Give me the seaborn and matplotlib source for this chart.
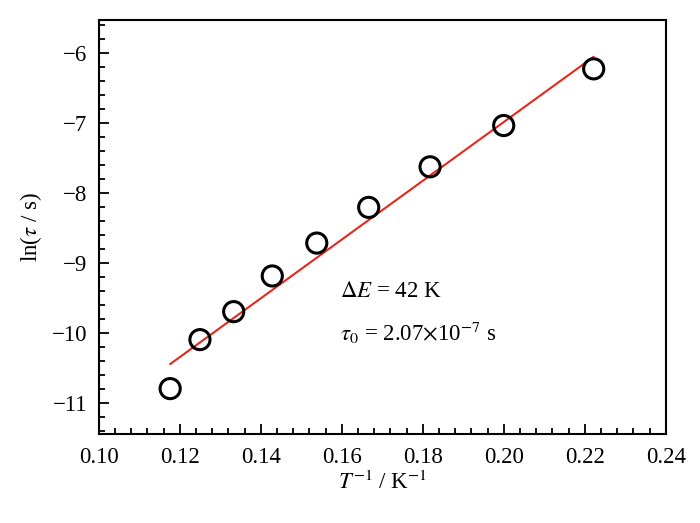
import numpy as np
import pandas as pd
import matplotlib
matplotlib.use("Agg")
import matplotlib.pyplot as plt
import seaborn as sns
from matplotlib.ticker import MultipleLocator, AutoMinorLocator

# data
inv_T = [1/8.5, 1/8.0, 1/7.5, 1/7.0, 1/6.5, 1/6.0, 1/5.5, 1/5.0, 1/4.5]
ln_tau = [-10.80, -10.10, -9.70, -9.19, -8.72, -8.21, -7.63, -7.04, -6.23]

# Arrhenius fit parameters (from the annotation)
dE = 42.0
tau0 = 2.07e-7

df = pd.DataFrame({"x": inv_T, "y": ln_tau})
xf = np.array([min(inv_T), max(inv_T)])
fit = pd.DataFrame({"x": xf, "y": np.log(tau0) + dE * xf})

sns.set_style("ticks")
plt.rcParams["font.family"] = ["Liberation Serif", "DejaVu Serif"]
plt.rcParams["mathtext.fontset"] = "stix"
for k in ["text.color", "axes.labelcolor", "xtick.color", "ytick.color"]:
    plt.rcParams[k] = "black"

fig = plt.figure(figsize=(7, 5.23), dpi=100)
ax = fig.add_axes([0.141, 0.170, 0.810, 0.792])

sns.lineplot(data=fit, x="x", y="y", color="#e8261c", lw=1.5, ax=ax)
sns.scatterplot(data=df, x="x", y="y", marker="o", s=210, facecolor="none",
                edgecolor="black", linewidth=2.2, ax=ax, zorder=3)

ax.set_xlim(0.10, 0.24)
ax.set_ylim(-11.45, -5.53)
ax.xaxis.set_major_locator(MultipleLocator(0.02))
ax.xaxis.set_minor_locator(AutoMinorLocator(5))
ax.yaxis.set_major_locator(MultipleLocator(1))
ax.yaxis.set_minor_locator(AutoMinorLocator(5))
ax.xaxis.set_major_formatter(matplotlib.ticker.FormatStrFormatter("%.2f"))
ax.yaxis.set_major_formatter(matplotlib.ticker.FuncFormatter(lambda v, p: f"\u2212{abs(int(v))}"))
ax.tick_params(which="both", direction="in", top=False, right=False, labelsize=16.5, width=1.3)
ax.tick_params(which="major", length=7)
ax.tick_params(which="minor", length=4)
ax.tick_params(axis="x", which="major", pad=9)
ax.tick_params(axis="y", which="major", pad=8)
for s in ax.spines.values():
    s.set_linewidth(1.5)
    s.set_color("black")

ax.set_xlabel(r"$T^{-1}$ / K$^{-1}$", fontsize=16.5, labelpad=2)
ax.set_ylabel(r"ln($\tau$ / s)", fontsize=16.5, labelpad=6)

ax.text(0.1595, -9.41, r"$\Delta E$ = 42 K", fontsize=16.5, va="center")
ax.text(0.1595, -10.0, r"$\tau_0$ = 2.07$\times$10$^{-7}$ s", fontsize=16.5, va="center")

fig.savefig("out.png", dpi=100)
